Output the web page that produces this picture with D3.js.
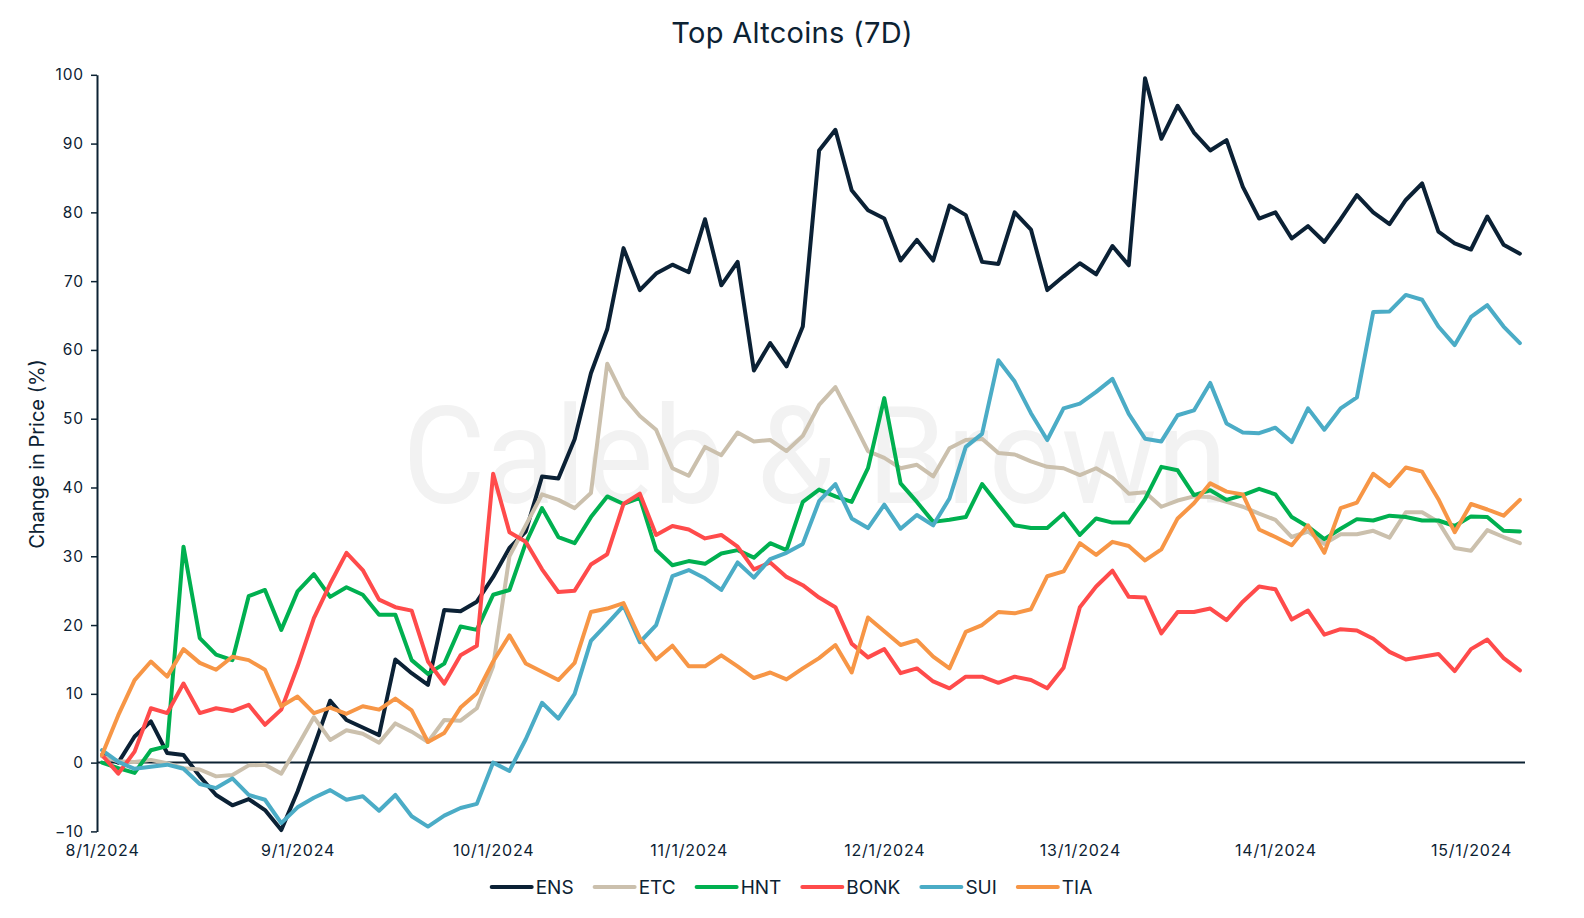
<!DOCTYPE html>
<html>
<head>
<meta charset="utf-8">
<script src="https://cdn.jsdelivr.net/npm/d3@7"></script>
<style>
body { margin: 0; background: #fff; }
svg { display: block; font-family: Inter, "Noto Sans", sans-serif; }
</style>
</head>
<body>
<div id="chart"></div>
<script>
// data: one reading every 2 hours from 8/1/2024 00:00
var startDate = Date.UTC(2024, 0, 8);
var stepHours = 2;
var seriesNames = ["ENS", "ETC", "HNT", "BONK", "SUI", "TIA"];
var yTicks = [-10, 0, 10, 20, 30, 40, 50, 60, 70, 80, 90, 100];

var ens = [1.1, 0, 3.8, 6, 1.4, 1.1, -2, -4.7, -6.2, -5.3, -6.9, -9.8, -4.2, 2.3, 9,
    6.2, 5.1, 4, 15, 13, 11.3, 22.2, 22, 23.4, 27, 31.2, 33.6, 41.6, 41.3, 47,
    56.6, 63, 74.8, 68.7, 71.1, 72.4, 71.3, 79, 69.4, 72.8, 57, 61, 57.6, 63.4, 89,
    92, 83.2, 80.3, 79.1, 73, 76, 73, 81, 79.6, 72.8, 72.5, 80, 77.5, 68.7, 70.7,
    72.6, 71, 75.1, 72.3, 99.5, 90.7, 95.5, 91.6, 89, 90.5, 83.7, 79.1, 80, 76.2,
    78, 75.7, 79, 82.5, 80, 78.3, 81.8, 84.2, 77.2, 75.5, 74.6, 79.4, 75.3, 74];
var etc = [0.9, 0.2, 0.1, 0.4, -0.1, -0.8, -1, -2, -1.8, -0.4, -0.3, -1.6, 2.4, 6.6, 3.3,
    4.7, 4.2, 2.9, 5.7, 4.5, 3, 6.2, 6.1, 7.9, 14, 30, 34.5, 39, 38.2, 37,
    39.2, 58, 53.2, 50.4, 48.4, 42.8, 41.7, 45.9, 44.7, 48, 46.7, 46.9, 45.3, 47.5, 52,
    54.6, 50, 45.3, 44.3, 42.8, 43.3, 41.6, 45.7, 46.9, 47.1, 45, 44.8, 43.8, 43, 42.8,
    41.8, 42.8, 41.4, 39.1, 39.3, 37.2, 38.1, 38.7, 38.6, 37.9, 37.2, 36.2, 35.3, 32.8,
    33.6, 31.8, 33.2, 33.2, 33.7, 32.7, 36.4, 36.4, 35, 31.2, 30.8, 33.8, 32.8, 31.9];
var hnt = [0, -0.8, -1.5, 1.8, 2.4, 31.4, 18.1, 15.7, 14.9, 24.2, 25.1, 19.3, 24.9, 27.4, 24.1,
    25.5, 24.4, 21.5, 21.5, 14.9, 12.9, 14.4, 19.8, 19.3, 24.4, 25.1, 31.9, 37, 32.8, 31.9,
    35.7, 38.7, 37.6, 38.5, 30.9, 28.7, 29.3, 28.9, 30.4, 30.9, 29.8, 31.9, 30.9, 37.9, 39.7,
    38.7, 37.9, 42.8, 53, 40.6, 37.9, 35, 35.3, 35.7, 40.5, 37.5, 34.5, 34.1, 34.1, 36.2,
    33.1, 35.5, 34.9, 34.9, 38.3, 43, 42.5, 38.9, 39.6, 38.2, 38.9, 39.8, 39, 35.7,
    34.3, 32.5, 34, 35.4, 35.2, 35.9, 35.7, 35.2, 35.2, 34.4, 35.8, 35.7, 33.7, 33.6];
var bonk = [1.1, -1.6, 1.6, 7.9, 7.2, 11.5, 7.2, 7.9, 7.5, 8.4, 5.5, 7.7, 14, 21, 26,
    30.5, 28, 23.7, 22.6, 22.1, 14.7, 11.5, 15.6, 17, 42, 33.5, 32.1, 28.1, 24.8, 25,
    28.8, 30.3, 37.6, 39.1, 33.1, 34.4, 33.9, 32.6, 33.1, 31.4, 28.1, 29.1, 27, 25.8, 24,
    22.6, 17.3, 15.3, 16.5, 13, 13.7, 11.8, 10.8, 12.5, 12.5, 11.6, 12.5, 12, 10.8, 13.8,
    22.6, 25.6, 27.9, 24.1, 24, 18.8, 21.9, 21.9, 22.4, 20.7, 23.4, 25.6, 25.2, 20.8,
    22.1, 18.6, 19.4, 19.2, 18, 16.1, 15, 15.4, 15.8, 13.3, 16.5, 17.9, 15.2, 13.4];
var sui = [1.8, 0.1, -0.9, -0.6, -0.3, -0.9, -3.1, -3.7, -2.3, -4.7, -5.4, -8.8, -6.5, -5.1, -4,
    -5.4, -4.9, -7, -4.7, -7.8, -9.3, -7.7, -6.6, -6, 0, -1.2, 3.4, 8.7, 6.4, 10,
    17.7, 20.2, 22.8, 17.5, 20, 27.1, 28, 26.8, 25.1, 29.1, 26.9, 29.6, 30.5, 31.8, 38,
    40.5, 35.5, 34.1, 37.5, 34, 36, 34.5, 38.4, 45.9, 47.8, 58.5, 55.4, 50.8, 46.9, 51.5,
    52.2, 53.9, 55.8, 50.7, 47.1, 46.7, 50.5, 51.2, 55.2, 49.3, 48, 47.9, 48.7, 46.6,
    51.5, 48.4, 51.5, 53.1, 65.5, 65.6, 68, 67.3, 63.4, 60.7, 64.8, 66.5, 63.4, 61];
var tia = [1.1, 6.9, 12, 14.7, 12.5, 16.5, 14.5, 13.5, 15.4, 14.9, 13.5, 8.2, 9.6, 7.2, 8,
    7.1, 8.2, 7.7, 9.3, 7.6, 3, 4.3, 8, 10.1, 14.7, 18.5, 14.4, 13.2, 12, 14.5,
    21.9, 22.4, 23.2, 18.1, 15, 17, 14, 14, 15.6, 14, 12.3, 13.1, 12.1, 13.7, 15.2,
    17.1, 13.1, 21.1, 19.1, 17.1, 17.8, 15.4, 13.7, 19, 20, 21.9, 21.7, 22.3, 27.1, 27.8,
    31.9, 30.2, 32.1, 31.5, 29.4, 31, 35.5, 37.7, 40.6, 39.4, 39, 33.9, 32.8, 31.6,
    34.5, 30.5, 37, 37.8, 42, 40.2, 42.9, 42.3, 38.3, 33.5, 37.6, 36.8, 35.9, 38.2];

var seriesValues = [ens, etc, hnt, bonk, sui, tia];
var colors = ["#0b2135", "#cbc0ad", "#00b050", "#ff4b4b", "#4bacc6", "#f79646"];

var width = 1584, height = 918;
var textColor = "#0c2233";
var DAY = 24 * 3600 * 1000;

var svg = d3.select("#chart").append("svg")
    .attr("width", width)
    .attr("height", height);

// scales
var x = d3.scaleUtc()
    .domain([new Date(startDate), new Date(startDate + 7 * DAY)])
    .range([102, 1471]);
var y = d3.scaleLinear().domain([-10, 100]).range([831.4, 74.8]);

var plotLeft = 97, plotRight = 1525;

// watermark
svg.append("text")
    .attr("x", 815)
    .attr("y", 503)
    .attr("text-anchor", "middle")
    .attr("font-family", "Roboto, sans-serif")
    .attr("font-size", 136)
    .attr("textLength", 825)
    .attr("lengthAdjust", "spacingAndGlyphs")
    .attr("fill", "#f2f2f2")
    .text("Caleb & Brown");

// title
svg.append("text")
    .attr("x", width / 2)
    .attr("y", 43)
    .attr("text-anchor", "middle")
    .attr("font-size", 29)
    .attr("letter-spacing", 0.3)
    .attr("fill", textColor)
    .text("Top Altcoins (7D)");

// y axis
var yAxis = svg.append("g")
    .attr("transform", "translate(" + plotLeft + ",0)")
    .call(d3.axisLeft(y).tickValues(yTicks).tickSize(6).tickSizeOuter(0).tickPadding(7));
yAxis.select(".domain").attr("stroke", textColor).attr("stroke-width", 2);
yAxis.selectAll(".tick line").attr("stroke", textColor).attr("stroke-width", 1.5);
yAxis.selectAll(".tick text")
    .attr("font-size", 15.5)
    .attr("letter-spacing", 0.9)
    .attr("font-family", "Inter, sans-serif")
    .attr("fill", textColor)
    .text(function (d) { return d < 0 ? "\u2212" + Math.abs(d) : d; });

svg.append("text")
    .attr("transform", "translate(44,454) rotate(-90)")
    .attr("text-anchor", "middle")
    .attr("font-size", 20)
    .attr("fill", textColor)
    .text("Change in Price (%)");

// x axis: zero line with labels at bottom
svg.append("line")
    .attr("x1", plotLeft)
    .attr("x2", plotRight)
    .attr("y1", y(0))
    .attr("y2", y(0))
    .attr("stroke", textColor)
    .attr("stroke-width", 2);

var xAxis = svg.append("g")
    .attr("transform", "translate(0," + y(-10) + ")")
    .call(d3.axisBottom(x).ticks(d3.utcDay.every(1)).tickSize(0).tickPadding(13)
        .tickFormat(d3.utcFormat("%-d/%-m/%Y")));
xAxis.select(".domain").remove();
xAxis.selectAll(".tick text")
    .attr("font-size", 16)
    .attr("letter-spacing", 0.8)
    .attr("font-family", "Inter, sans-serif")
    .attr("fill", textColor);

// lines
var times = ens.map(function (v, i) { return new Date(startDate + i * stepHours * 3600 * 1000); });
var line = d3.line()
    .x(function (d, i) { return x(times[i]); })
    .y(function (d) { return y(d); });

svg.append("g")
    .selectAll("path")
    .data(seriesValues)
    .enter().append("path")
    .attr("d", line)
    .attr("fill", "none")
    .attr("stroke", function (d, i) { return colors[i]; })
    .attr("stroke-width", 4)
    .attr("stroke-linejoin", "round")
    .attr("stroke-linecap", "round");

// legend
var legend = svg.append("g");
var items = legend.selectAll("g")
    .data(seriesNames)
    .enter().append("g");
items.append("line")
    .attr("x1", 0).attr("x2", 40)
    .attr("y1", 0).attr("y2", 0)
    .attr("stroke", function (d, i) { return colors[i]; })
    .attr("stroke-width", 4)
    .attr("stroke-linecap", "round");
items.append("text")
    .attr("x", 44)
    .attr("dy", "0.35em")
    .attr("font-size", 19)
    .attr("fill", textColor)
    .text(function (d) { return d; });

var pos = 0;
items.each(function () {
    var w = 44 + this.querySelector("text").getComputedTextLength();
    d3.select(this).attr("transform", "translate(" + pos + ",0)");
    pos += w + 21;
});
var total = pos - 21;
legend.attr("transform", "translate(" + (width / 2 - total / 2) + ",887)");
</script>
</body>
</html>
